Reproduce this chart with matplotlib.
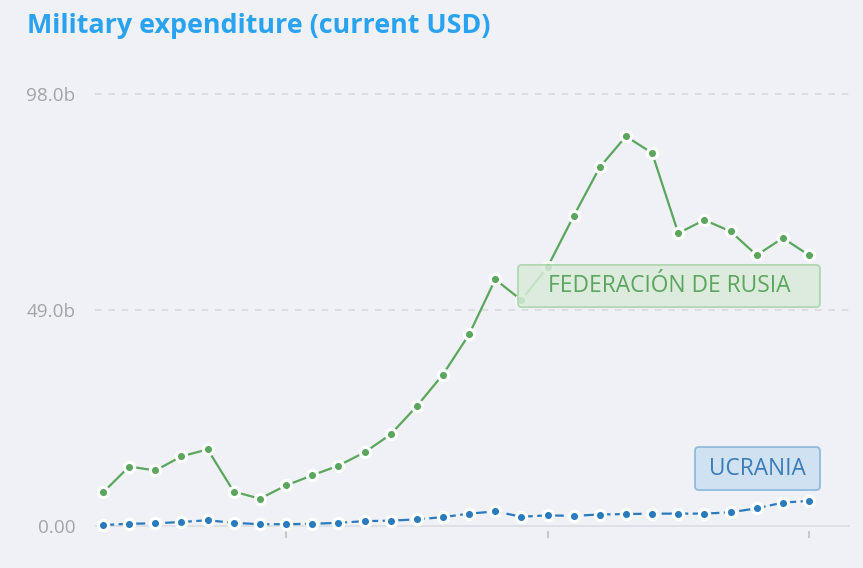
import matplotlib
matplotlib.use("Agg")
import matplotlib.pyplot as plt
from matplotlib.patches import FancyBboxPatch

# datos (miles de millones USD)
years = list(range(1993, 2021))
rusia = [7.5, 13.4, 12.5, 15.7, 17.3, 7.7, 6.1, 9.1, 11.4, 13.6, 16.6, 20.7, 27.1, 34.3,
         43.4, 55.9, 51.2, 58.7, 70.3, 81.4, 88.4, 84.6, 66.4, 69.4, 66.8, 61.4, 65.3, 61.4]
ucrania = [0.1, 0.4, 0.5, 0.8, 1.2, 0.6, 0.3, 0.3, 0.4, 0.6, 1.0, 1.1, 1.4, 1.9,
           2.7, 3.2, 2.0, 2.3, 2.2, 2.5, 2.6, 2.7, 2.7, 2.7, 3.0, 3.9, 5.2, 5.6]
y_ticks = [0, 49, 98]
y_labels = ["0.00", "49.0b", "98.0b"]
x_ticks = [2000, 2010, 2020]

fondo = "#f0f1f6"
verde = "#5aa65c"
azul = "#2a7bbd"

fig = plt.figure(figsize=(8.63, 5.68), dpi=100, facecolor=fondo)
ax = fig.add_axes([0.110, 0.0651, 0.875, 0.829])
ax.set_facecolor(fondo)

ax.set_xlim(1992.69, 2021.57)
ax.set_ylim(-1.25, 105.7)

# rejilla y linea base
for v in y_ticks[1:]:
    ax.axhline(v, color="#d9dadf", lw=1.2, dashes=(4, 4), zorder=1)
ax.axhline(0, color="#dcdde2", lw=1.2, zorder=1)

# series
ax.plot(years, rusia, color=verde, lw=1.6, marker="o", ms=7.4, mfc=verde,
        mec="white", mew=2.3, zorder=3, clip_on=False)
ax.plot(years, ucrania, color=azul, lw=1.6, dashes=(5, 2), marker="o", ms=7.4,
        mfc=azul, mec="white", mew=2.3, zorder=3, clip_on=False)

# etiquetas de series
asp = 26.15 / 4.403
caja_r = FancyBboxPatch((2008.87, 49.6), 2020.42 - 2008.87, 59.2 - 49.6,
                        boxstyle="round,pad=0,rounding_size=0.15", mutation_aspect=asp,
                        fc="#d9ebd9", ec="#a6d3a6", lw=1.3, alpha=0.85, zorder=4)
ax.add_patch(caja_r)
ax.text(2014.64, 54.4, "FEDERACIÓN DE RUSIA", color=verde, fontsize=16.4,
        family="Open Sans", ha="center", va="center", zorder=5)

caja_u = FancyBboxPatch((2015.64, 8.06), 2020.42 - 2015.64, 17.83 - 8.06,
                        boxstyle="round,pad=0,rounding_size=0.15", mutation_aspect=asp,
                        fc="#cfe2f2", ec="#8cb8dc", lw=1.3, alpha=0.95, zorder=4)
ax.add_patch(caja_u)
ax.text(2018.03, 12.95, "UCRANIA", color="#3a7cb8", fontsize=16.3,
        family="Open Sans", ha="center", va="center", zorder=5)

# ejes
for s in ax.spines.values():
    s.set_visible(False)
ax.set_yticks(y_ticks)
ax.set_yticklabels(y_labels, family="Open Sans", fontsize=13.6, color="#a3a3a8")
ax.tick_params(axis="y", length=0, pad=14)
ax.set_xticks(x_ticks)
ax.set_xticklabels([])
ax.tick_params(axis="x", direction="out", length=5, width=1.5, color="#c8c9ce")

fig.text(0.031, 0.954, "Military expenditure (current USD)", color="#29a3ef",
         fontsize=19.4, fontweight="bold", family="Open Sans", ha="left", va="center")

fig.savefig("out.png", dpi=100, facecolor=fondo)
